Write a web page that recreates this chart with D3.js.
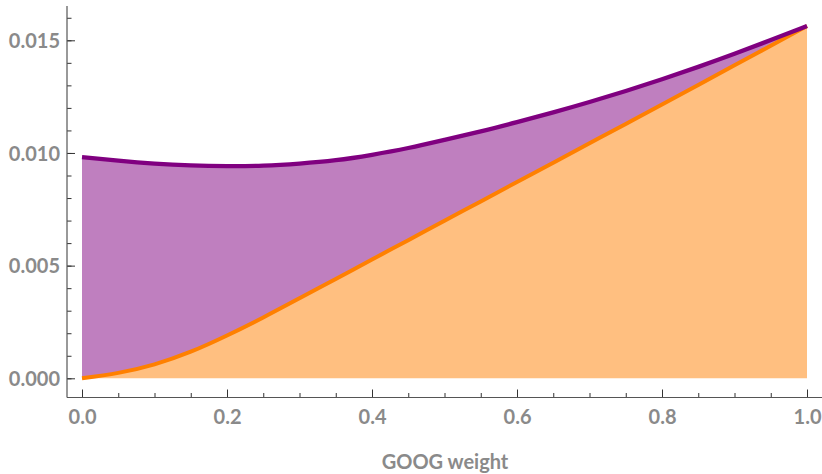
<html>
<head>
<meta charset="utf-8">
<title>GOOG weight</title>
<style>
  body { margin: 0; background: #fff; }
  text { font-family: Lato, "Open Sans", sans-serif; font-weight: bold; }
</style>
</head>
<body>
<script src="https://cdn.jsdelivr.net/npm/d3@7/dist/d3.min.js"></script>
<script>

var width  = 822;
var height = 474;

// GOOG weight 0 .. 1
var weights = [0, 0.05, 0.1, 0.15, 0.2, 0.25, 0.3, 0.35, 0.4, 0.45, 0.5,
               0.55, 0.6, 0.65, 0.7, 0.75, 0.8, 0.85, 0.9, 0.95, 1];
// upper curve (purple)
var totalRisk = [0.00982, 0.00966, 0.00953, 0.00945, 0.00942, 0.00944, 0.00953, 0.00968,
                 0.00992, 0.01022, 0.01058, 0.01096, 0.01137, 0.01180, 0.01226, 0.01275,
                 0.01327, 0.01382, 0.01440, 0.01501, 0.01563];
// lower curve (orange)
var googRisk = [0.00000, 0.00024, 0.00062, 0.00118, 0.00190, 0.00270, 0.00355, 0.00441,
                0.00527, 0.00613, 0.00699, 0.00785, 0.00871, 0.00957, 0.01043, 0.01129,
                0.01215, 0.01302, 0.01389, 0.01476, 0.01563];

var xTicks = [0, 0.2, 0.4, 0.6, 0.8, 1.0];
var yTicks = [0, 0.005, 0.010, 0.015];
var xMinor = d3.range(0, 1.0001, 0.05);
var yMinor = d3.range(0, 0.01601, 0.001);

var data = weights.map(function(w, i){ return { w: w, top: totalRisk[i], low: googRisk[i] }; });

var svg = d3.select("body").append("svg")
            .attr("width", width)
            .attr("height", height);

var x = d3.scaleLinear().domain([0, 1]).range([82, 807]);
var y = d3.scaleLinear().domain([0, 0.015]).range([378.3, 40.3]);

var axisX = 67;      // y axis position
var axisY = 397.5;   // x axis position

// fills
var curve = d3.curveNatural;

svg.append("path")
   .datum(data)
   .attr("fill", "#bf7fbf")
   .attr("d", d3.area().curve(curve)
          .x(function(d){ return x(d.w); })
          .y0(function(d){ return y(d.low); })
          .y1(function(d){ return y(d.top); }));

svg.append("path")
   .datum(data)
   .attr("fill", "#ffbf80")
   .attr("d", d3.area().curve(curve)
          .x(function(d){ return x(d.w); })
          .y0(y(0))
          .y1(function(d){ return y(d.low); }));

// lines
svg.append("path")
   .datum(data)
   .attr("fill", "none")
   .attr("stroke", "#ff8000")
   .attr("stroke-width", 4)
   .attr("d", d3.line().curve(curve)
          .x(function(d){ return x(d.w); })
          .y(function(d){ return y(d.low); }));

svg.append("path")
   .datum(data)
   .attr("fill", "none")
   .attr("stroke", "#800080")
   .attr("stroke-width", 4.3)
   .attr("d", d3.line().curve(curve)
          .x(function(d){ return x(d.w); })
          .y(function(d){ return y(d.top); }));

// axes
function styleAxis(g) {
  g.select(".domain").remove();
  g.selectAll(".tick line").attr("stroke", "#333").attr("stroke-width", 1);
  g.selectAll(".tick text").attr("fill", "#8a8a8a").style("font-size", "20px");
}

svg.append("g")
   .attr("transform", "translate(" + axisX + ",0)")
   .call(d3.axisLeft(y).tickValues(yMinor).tickSizeInner(-4.5).tickSizeOuter(0).tickFormat(""))
   .call(styleAxis);

svg.append("g")
   .attr("transform", "translate(" + axisX + ",0)")
   .call(d3.axisLeft(y).tickValues(yTicks).tickSizeInner(-8).tickSizeOuter(0)
         .tickPadding(7).tickFormat(d3.format(".3f")))
   .call(styleAxis)
   .selectAll(".tick text").attr("dy", "0.36em");

svg.append("g")
   .attr("transform", "translate(0," + axisY + ")")
   .call(d3.axisBottom(x).tickValues(xMinor).tickSizeInner(-4.5).tickSizeOuter(0).tickFormat(""))
   .call(styleAxis);

svg.append("g")
   .attr("transform", "translate(0," + axisY + ")")
   .call(d3.axisBottom(x).tickValues(xTicks).tickSizeInner(-8).tickSizeOuter(0)
         .tickPadding(12).tickFormat(d3.format(".1f")))
   .call(styleAxis);

// axis lines
svg.append("line")
   .attr("x1", axisX).attr("x2", axisX)
   .attr("y1", 6).attr("y2", axisY)
   .attr("stroke", "#555").attr("stroke-width", 1.2);

svg.append("line")
   .attr("x1", axisX).attr("x2", 822)
   .attr("y1", axisY).attr("y2", axisY)
   .attr("stroke", "#555").attr("stroke-width", 1.2);

// axis title
svg.append("text")
   .attr("x", 445)
   .attr("y", 469)
   .attr("text-anchor", "middle")
   .attr("fill", "#8a8a8a")
   .style("font-size", "20px")
   .text("GOOG weight");

</script>
</body>
</html>
